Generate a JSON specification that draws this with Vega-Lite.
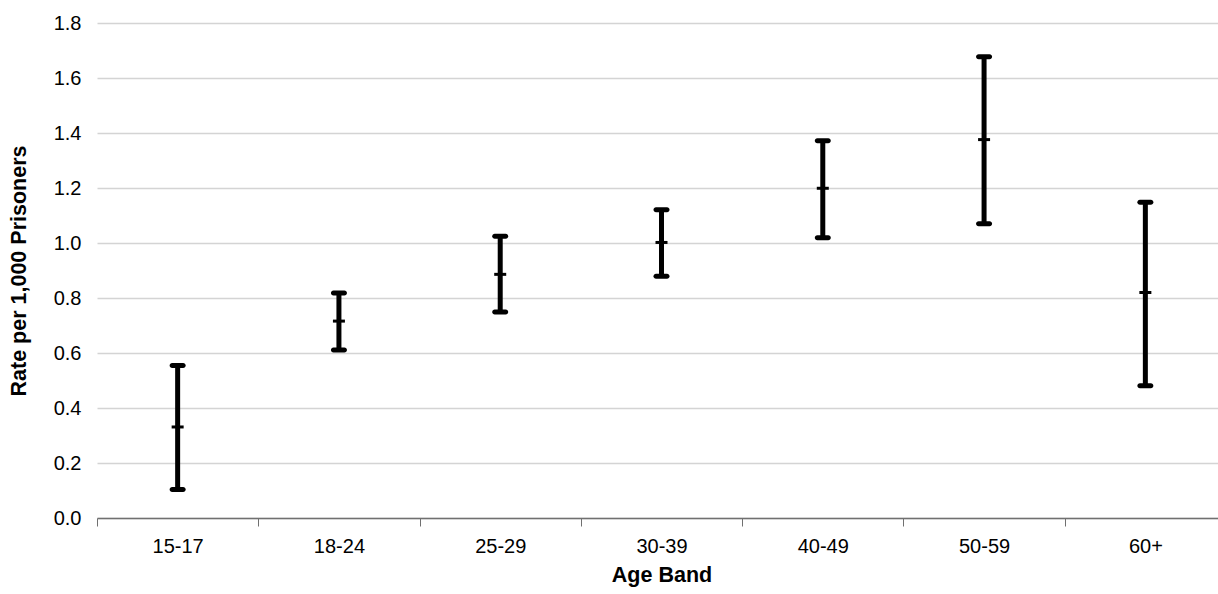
{
  "$schema": "https://vega.github.io/schema/vega-lite/v6.json",
  "autosize": "none",
  "width": 1121,
  "height": 495,
  "padding": {"left": 97, "top": 23, "right": 0, "bottom": 76},
  "background": "white",
  "config": {
    "view": {"stroke": null},
    "font": "Liberation Sans",
    "axis": {"labelFont": "Liberation Sans", "titleFont": "Liberation Sans", "labelColor": "#000000", "titleColor": "#000000"}
  },
  "data": {
    "values": [
      {"age": "15-17", "low": 0.104, "mid": 0.331, "high": 0.555},
      {"age": "18-24", "low": 0.611, "mid": 0.716, "high": 0.818},
      {"age": "25-29", "low": 0.749, "mid": 0.886, "high": 1.025},
      {"age": "30-39", "low": 0.879, "mid": 1.002, "high": 1.121},
      {"age": "40-49", "low": 1.019, "mid": 1.199, "high": 1.372},
      {"age": "50-59", "low": 1.07, "mid": 1.376, "high": 1.677},
      {"age": "60+", "low": 0.481, "mid": 0.820, "high": 1.148}
    ]
  },
  "encoding": {
    "x": {
      "field": "age", "type": "nominal", "sort": null,
      "scale": {"range": [0, 1129], "paddingInner": 0, "paddingOuter": 0},
      "axis": {
        "title": "Age Band", "labelAngle": 0, "labelFontSize": 20, "titleFontSize": 21.5, "titleFontWeight": "bold",
        "tickBand": "extent", "tickSize": 8, "tickColor": "#707070", "domainColor": "#707070", "domainWidth": 1.5,
        "labelPadding": 10, "titlePadding": 8, "grid": false
      }
    }
  },
  "layer": [
    {
      "mark": {"type": "rule", "strokeWidth": 5, "color": "#000000"},
      "encoding": {
        "y": {
          "field": "low", "type": "quantitative",
          "scale": {"domain": [0, 1.8], "nice": false},
          "axis": {
            "title": "Rate per 1,000 Prisoners", "values": [0, 0.2, 0.4, 0.6, 0.8, 1.0, 1.2, 1.4, 1.6, 1.8],
            "format": ".1f", "labelFontSize": 20, "titleFontSize": 21.5, "titleFontWeight": "bold",
            "ticks": false, "domain": false, "labelPadding": 16, "titlePadding": 23,
            "grid": true, "gridColor": "#d4d4d4", "gridWidth": 1.5
          }
        },
        "y2": {"field": "high"}
      }
    },
    {
      "mark": {"type": "tick", "orient": "horizontal", "color": "#000000", "size": 16, "thickness": 5, "cornerRadius": 2.5, "opacity": 1},
      "encoding": {"y": {"field": "low", "type": "quantitative"}}
    },
    {
      "mark": {"type": "tick", "orient": "horizontal", "color": "#000000", "size": 16, "thickness": 5, "cornerRadius": 2.5, "opacity": 1},
      "encoding": {"y": {"field": "high", "type": "quantitative"}}
    },
    {
      "mark": {"type": "tick", "orient": "horizontal", "color": "#000000", "size": 12, "thickness": 3, "opacity": 1},
      "encoding": {"y": {"field": "mid", "type": "quantitative"}}
    }
  ]
}
